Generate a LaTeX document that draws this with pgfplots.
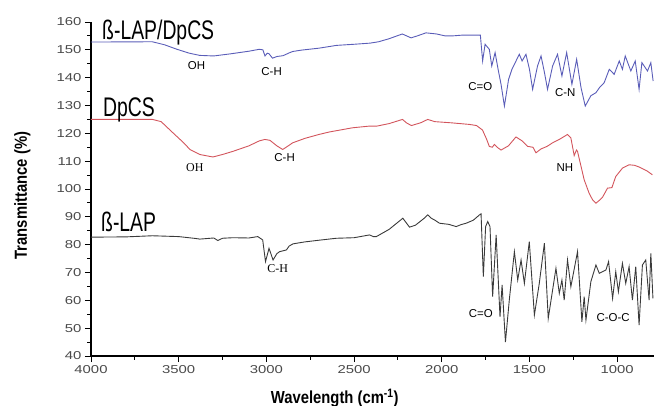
\documentclass[border=0pt]{standalone}
\usepackage{fontspec}
\setmainfont{Liberation Sans}
\newfontfamily\tickfont[FakeStretch=1.3]{Liberation Sans}
\newfontfamily\bigfont[FakeStretch=0.72]{Liberation Sans}
\newfontfamily\titlefont[FakeStretch=0.85]{Liberation Sans}
\newfontfamily\serifont{Liberation Serif}
\usepackage{pgfplots}
\pgfplotsset{compat=1.18}
\definecolor{blu}{HTML}{5A5DB8}
\definecolor{rosso}{HTML}{D2545C}
\definecolor{nero}{HTML}{3A3A3A}
\definecolor{tickgray}{HTML}{4A4A4A}

\begin{document}
\begin{tikzpicture}
\begin{axis}[scale only axis,width=563bp,height=334bp,
 x dir=reverse,xmin=790,xmax=4000,ymin=40,ymax=160,
 axis x line*=bottom,axis y line*=left,axis line style={line width=1.1pt},
 xtick={1000,1500,...,4000},ytick={40,50,...,160},
 minor x tick num=1,minor y tick num=1,
 tick align=outside,major tick length=6bp,minor tick length=3.5bp,
 tick style={line width=0.9pt,black},
 /pgf/number format/assume math mode=true,
 /pgf/number format/set thousands separator={},
 tick label style={font=\fontsize{11.5}{12}\selectfont\tickfont,text=tickgray},
 xlabel={Wavelength (cm\textsuperscript{-1})},
 ylabel={Transmittance (\%)},
 label style={font=\fontsize{17.5}{18}\selectfont\titlefont\bfseries},
 xlabel style={at={(axis description cs:0.433,-0.126)},anchor=center},
 ylabel style={at={(axis description cs:-0.122,0.48)},anchor=center},
 every axis plot/.append style={line width=0.9pt},
 clip=false]

% beta-LAP/DpCS
\addplot[blu] coordinates {
(4000,152.8) (3650,152.9) (3580,151.8) (3510,150.2) (3440,148.8) (3380,148.0)
(3300,147.8) (3200,148.6) (3100,149.5) (3040,150.2) (3020,150.0) (3008,147.8)
(2995,148.8) (2985,148.6) (2965,147.0) (2940,147.6) (2905,147.9) (2870,148.9)
(2850,149.4) (2800,149.9) (2700,150.6) (2600,151.6) (2500,152.0) (2410,152.4)
(2360,152.9) (2300,154.0) (2225,155.7) (2200,155.0) (2175,154.3) (2140,155.0)
(2090,156.1) (2060,155.9) (2030,155.7) (1980,155.0) (1940,155.0) (1880,155.3)
(1800,155.3) (1780,155.3) (1767,146.0) (1753,152.0) (1740,151.0) (1729,150.2)
(1715,144.2) (1696,149.0) (1677,142.4) (1662,137.6) (1643,129.8) (1619,139.4)
(1600,143.0) (1586,144.8) (1558,148.4) (1542,146.0) (1520,148.4) (1500,143.0)
(1482,135.8) (1454,144.2) (1434,147.8) (1415,142.0) (1397,135.8) (1368,144.2)
(1340,148.4) (1315,140.6) (1288,149.0) (1258,137.6) (1231,146.6) (1206,136.4)
(1182,129.8) (1150,133.5) (1121,134.6) (1100,136.5) (1074,138.2) (1045,143.0)
(1017,141.2) (988,146.0) (970,143.0) (954,147.8) (922,142.4) (897,146.0)
(875,135.8) (859,145.4) (827,142.4) (808,145.4) (795,138.8)};

% DpCS
\addplot[rosso] coordinates {
(4000,125.0) (3650,125.0) (3600,124.2) (3533,120.2) (3470,116.5) (3436,114.2)
(3380,112.4) (3305,111.5) (3250,112.4) (3192,113.5) (3100,115.5) (3040,117.3)
(3009,117.8) (2980,117.5) (2940,115.5) (2907,114.2) (2880,115.3) (2850,116.6)
(2780,118.2) (2700,119.6) (2640,120.5) (2508,122.0) (2412,122.6) (2370,122.6)
(2300,123.5) (2224,125.0) (2200,123.7) (2173,122.8) (2120,123.8) (2080,125.0)
(2040,124.2) (1950,123.8) (1842,123.2) (1802,122.8) (1768,121.2) (1745,118.0)
(1729,115.3) (1712,115.0) (1700,116.0) (1680,114.8) (1662,114.0) (1620,115.5)
(1577,118.7) (1540,117.2) (1510,115.3) (1480,115.0) (1463,113.0) (1434,114.4)
(1400,115.3) (1368,116.6) (1330,117.8) (1283,119.6) (1264,118.4) (1245,112.0)
(1232,114.0) (1226,113.5) (1188,103.3) (1160,98.5) (1140,96.1) (1121,94.9)
(1100,96.0) (1083,97.1) (1055,100.3) (1030,100.5) (1008,104.5) (970,107.5)
(932,108.7) (900,108.5) (875,107.9) (830,106.5) (799,105.1)};

% beta-LAP
\addplot[nero] coordinates {
(4000,82.7) (3800,82.8) (3650,83.2) (3500,82.9) (3400,82.2) (3380,82.0)
(3300,82.4) (3277,81.5) (3250,82.3) (3192,82.5) (3100,82.4) (3049,82.9)
(3021,81.7) (3005,73.9) (2985,78.7) (2962,74.5) (2940,76.8) (2924,77.5)
(2886,78.1) (2870,79.5) (2848,80.3) (2780,81.0) (2700,81.6) (2601,82.3)
(2500,82.5) (2412,83.5) (2390,82.9) (2373,82.9) (2300,85.5) (2222,89.5)
(2184,86.3) (2150,87.0) (2100,89.5) (2080,90.7) (2060,89.5) (2042,88.9)
(2013,87.7) (1960,87.3) (1918,86.5) (1890,87.2) (1861,87.7) (1820,88.8)
(1785,90.7) (1776,91.1) (1763,68.5) (1750,86.5) (1738,88.3) (1725,86.5)
(1710,61.3) (1690,83.5) (1668,54.1) (1656,65.5) (1637,45.0) (1615,60.1)
(1586,77.5) (1567,67.3) (1548,74.5) (1529,66.1) (1501,81.1) (1472,54.7)
(1444,66.1) (1415,80.5) (1393,53.5) (1349,71.5) (1330,62.5) (1315,67.3)
(1302,60.1) (1283,74.5) (1264,64.9) (1226,77.5) (1201,52.3) (1188,61.3)
(1178,52.9) (1150,66.7) (1121,72.7) (1102,69.7) (1064,70.9) (1049,73.9)
(1026,60.7) (1008,70.3) (993,63.1) (970,73.3) (951,66.1) (932,72.1)
(913,60.1) (894,72.1) (875,51.1) (856,72.7) (837,74.5) (818,60.1)
(808,76.9) (796,60.7)};

% curve names
\begin{scope}[every node/.style={font=\fontsize{27}{28}\selectfont\bigfont,inner sep=0pt,anchor=base west}]
\node at (axis cs:3937,153.8) {ß-LAP/DpCS};
\node at (axis cs:3932,125.9) {DpCS};
\node at (axis cs:3943,84.7) {ß-LAP};
\end{scope}

% band labels
\begin{scope}[every node/.style={font=\fontsize{11.5}{12}\selectfont,inner sep=0pt,anchor=center}]
\node at (axis cs:3398,144.5) {OH};
\node at (axis cs:2970,142.3) {C-H};
\node at (axis cs:1780,136.8) {C=O};
\node at (axis cs:1296,134.6) {C-N};
\node[font=\fontsize{12}{12}\selectfont\serifont] at (axis cs:3408,107.7) {OH};
\node at (axis cs:2896,111.3) {C-H};
\node at (axis cs:1298,107.6) {NH};
\node[font=\fontsize{12}{12}\selectfont\serifont] at (axis cs:2935,71.5) {C-H};
\node at (axis cs:1777,55.3) {C=O};
\node at (axis cs:1023,53.8) {C-O-C};
\end{scope}
\end{axis}
\pgfresetboundingbox
\path ([shift={(-91bp,-50bp)}]current axis.south west) rectangle ([shift={(0bp,22bp)}]current axis.north east);
\end{tikzpicture}
\end{document}
